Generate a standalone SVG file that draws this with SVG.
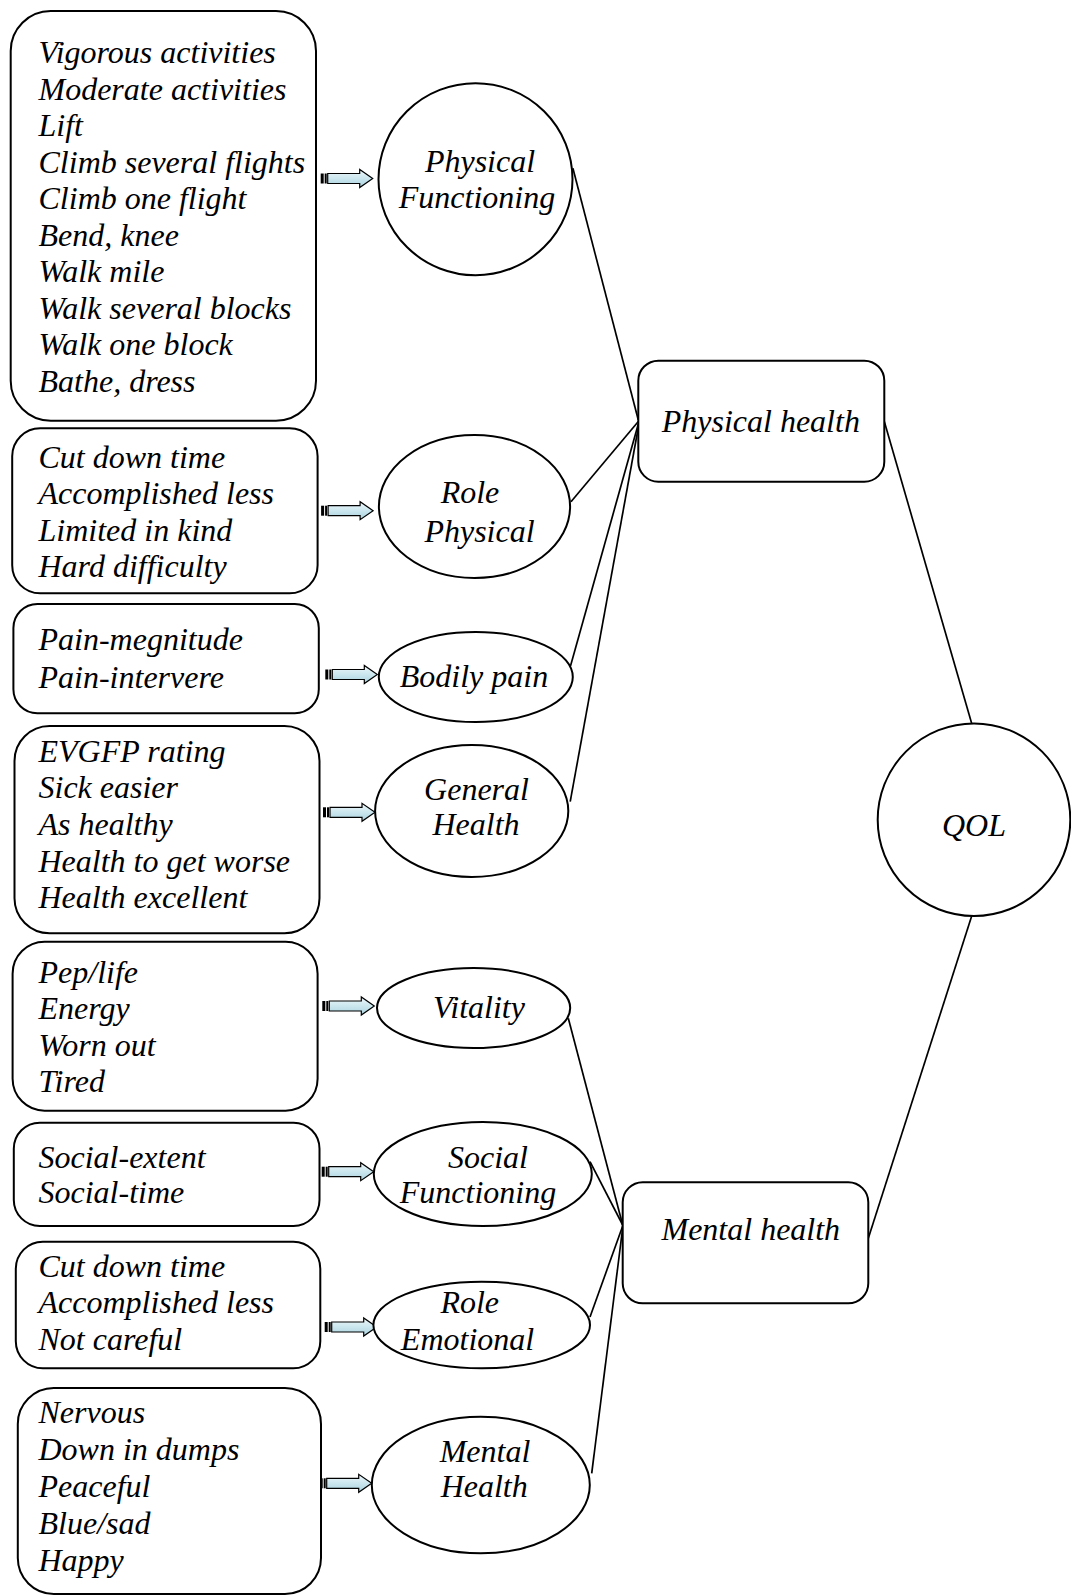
<svg xmlns="http://www.w3.org/2000/svg" xmlns:xlink="http://www.w3.org/1999/xlink" width="1071" height="1596" viewBox="0 0 1071 1596">
  <style>
    text { font-family: "Liberation Serif", "Times New Roman", serif; font-style: italic; font-size: 32px; fill: #000; }
    .mid { text-anchor: middle; }
    .box { fill: #fff; stroke: #000; stroke-width: 2; }
    .node { fill: #fff; stroke: #000; stroke-width: 2; }
    .link { fill: none; stroke: #000; stroke-width: 1.7; }
    .shaft { stroke: #000; stroke-width: 1.2; stroke-linejoin: miter; }
  </style>
  <defs>
    <linearGradient id="arrowFill" x1="0" y1="0" x2="0" y2="1">
      <stop offset="0" stop-color="#eef8fb"/>
      <stop offset="0.5" stop-color="#cbe6ee"/>
      <stop offset="1" stop-color="#a9d2de"/>
    </linearGradient>
    <!-- striped block arrow, origin at tail centre -->
    <g id="striped-arrow">
      <rect x="0" y="-5" width="3" height="10" fill="#000"/>
      <rect x="4" y="-5" width="2" height="10" fill="#000"/>
      <path class="shaft" d="M7,-5 H39 V-9 L52,0 L39,9 V5 H7 Z" fill="url(#arrowFill)"/>
    </g>
  </defs>

  <rect width="1071" height="1596" fill="#fff"/>

  <g id="connectors">
    <!-- item lists into scales -->
    <use xlink:href="#striped-arrow" transform="translate(320.7,178.5)"/>
    <use xlink:href="#striped-arrow" transform="translate(321.1,510.7)"/>
    <use xlink:href="#striped-arrow" transform="translate(325.3,674.5)"/>
    <use xlink:href="#striped-arrow" transform="translate(323,812.3)"/>
    <use xlink:href="#striped-arrow" transform="translate(322.3,1006)"/>
    <use xlink:href="#striped-arrow" transform="translate(321.7,1171.7)"/>
    <use xlink:href="#striped-arrow" transform="translate(324.7,1327)"/>
    <use xlink:href="#striped-arrow" transform="translate(319.7,1483.3)"/>
    <!-- scales into physical health -->
    <line class="link" x1="572.9" y1="168.3" x2="638.3" y2="420"/>
    <line class="link" x1="571" y1="501.7" x2="638.3" y2="421.5"/>
    <line class="link" x1="570.5" y1="666" x2="638.3" y2="424"/>
    <line class="link" x1="570.2" y1="801.7" x2="638.3" y2="427.5"/>
    <!-- scales into mental health -->
    <line class="link" x1="568.3" y1="1018.3" x2="622.7" y2="1225"/>
    <line class="link" x1="590" y1="1161.7" x2="622.7" y2="1225"/>
    <line class="link" x1="590" y1="1317" x2="622.7" y2="1226"/>
    <line class="link" x1="591.7" y1="1473.3" x2="622.7" y2="1228"/>
    <!-- summary components into QOL -->
    <line class="link" x1="884.3" y1="421.5" x2="971.7" y2="723.5"/>
    <line class="link" x1="971.7" y1="916" x2="868.3" y2="1238.3"/>
  </g>

  <g id="items-physical-functioning">
    <rect class="box" x="10.7" y="11" width="305.3" height="409.7" rx="40"/>
    <text x="38.5" y="63.3">Vigorous activities</text>
    <text x="38.5" y="99.8">Moderate activities</text>
    <text x="38.5" y="136.3">Lift</text>
    <text x="38.5" y="172.8">Climb several flights</text>
    <text x="38.5" y="209.3">Climb one flight</text>
    <text x="38.5" y="245.8">Bend, knee</text>
    <text x="38.5" y="282.3">Walk mile</text>
    <text x="38.5" y="318.8">Walk several blocks</text>
    <text x="38.5" y="355.3">Walk one block</text>
    <text x="38.5" y="391.8">Bathe, dress</text>
  </g>

  <g id="items-role-physical">
    <rect class="box" x="12.2" y="428.3" width="305.4" height="165" rx="28"/>
    <text x="38.5" y="468.3">Cut down time</text>
    <text x="38.5" y="504.4">Accomplished less</text>
    <text x="38.5" y="540.5">Limited in kind</text>
    <text x="38.5" y="576.6">Hard difficulty</text>
  </g>

  <g id="items-bodily-pain">
    <rect class="box" x="13.4" y="604" width="305.4" height="109.3" rx="24"/>
    <text x="38.5" y="650">Pain-megnitude</text>
    <text x="38.5" y="687.7">Pain-intervere</text>
  </g>

  <g id="items-general-health">
    <rect class="box" x="14.5" y="726" width="305" height="207.3" rx="35"/>
    <text x="38.5" y="761.7">EVGFP rating</text>
    <text x="38.5" y="798.3">Sick easier</text>
    <text x="38.5" y="834.9">As healthy</text>
    <text x="38.5" y="871.5">Health to get worse</text>
    <text x="38.5" y="908.1">Health excellent</text>
  </g>

  <g id="items-vitality">
    <rect class="box" x="12.6" y="941.7" width="305" height="169" rx="32"/>
    <text x="38.5" y="983">Pep/life</text>
    <text x="38.5" y="1019.3">Energy</text>
    <text x="38.5" y="1055.6">Worn out</text>
    <text x="38.5" y="1091.9">Tired</text>
  </g>

  <g id="items-social-functioning">
    <rect class="box" x="13.8" y="1122.7" width="305.7" height="103.3" rx="26"/>
    <text x="38.5" y="1168.3">Social-extent</text>
    <text x="38.5" y="1203.3">Social-time</text>
  </g>

  <g id="items-role-emotional">
    <rect class="box" x="15.8" y="1241.7" width="304.5" height="126.6" rx="27"/>
    <text x="38.5" y="1276.7">Cut down time</text>
    <text x="38.5" y="1313.3">Accomplished less</text>
    <text x="38.5" y="1350">Not careful</text>
  </g>

  <g id="items-mental-health">
    <rect class="box" x="17.8" y="1388" width="303.2" height="206" rx="36"/>
    <text x="38.5" y="1423.3">Nervous</text>
    <text x="38.5" y="1460.1">Down in dumps</text>
    <text x="38.5" y="1496.9">Peaceful</text>
    <text x="38.5" y="1533.7">Blue/sad</text>
    <text x="38.5" y="1570.5">Happy</text>
  </g>

  <g id="scale-physical-functioning">
    <ellipse class="node" cx="475.5" cy="179.2" rx="97" ry="96"/>
    <text class="mid" x="480" y="171.7">Physical</text>
    <text class="mid" x="477" y="208.3">Functioning</text>
  </g>

  <g id="scale-role-physical">
    <ellipse class="node" cx="474.5" cy="506.5" rx="95.6" ry="71.5"/>
    <text class="mid" x="470" y="503.3">Role</text>
    <text class="mid" x="479.5" y="541.7">Physical</text>
  </g>

  <g id="scale-bodily-pain">
    <ellipse class="node" cx="475.8" cy="677" rx="97" ry="45"/>
    <text class="mid" x="474" y="687">Bodily pain</text>
  </g>

  <g id="scale-general-health">
    <ellipse class="node" cx="471.7" cy="811" rx="96.6" ry="66"/>
    <text class="mid" x="476.5" y="800">General</text>
    <text class="mid" x="476" y="835">Health</text>
  </g>

  <g id="scale-vitality">
    <ellipse class="node" cx="473.6" cy="1008" rx="96.6" ry="40"/>
    <text class="mid" x="479" y="1018">Vitality</text>
  </g>

  <g id="scale-social-functioning">
    <ellipse class="node" cx="482.8" cy="1174" rx="109" ry="52"/>
    <text class="mid" x="488" y="1168">Social</text>
    <text class="mid" x="478" y="1203">Functioning</text>
  </g>

  <g id="scale-role-emotional">
    <ellipse class="node" cx="481.7" cy="1325" rx="108.3" ry="43.3"/>
    <text class="mid" x="469.7" y="1313.3">Role</text>
    <text class="mid" x="467.5" y="1350">Emotional</text>
  </g>

  <g id="scale-mental-health">
    <ellipse class="node" cx="480.8" cy="1485" rx="109" ry="68.3"/>
    <text class="mid" x="485" y="1461.7">Mental</text>
    <text class="mid" x="484.2" y="1497.3">Health</text>
  </g>

  <g id="physical-health">
    <rect class="box" x="638.3" y="360.7" width="246" height="121" rx="20"/>
    <text class="mid" x="760.8" y="431.7">Physical health</text>
  </g>

  <g id="mental-health">
    <rect class="box" x="622.7" y="1182.3" width="245.6" height="121" rx="20"/>
    <text class="mid" x="750.8" y="1240">Mental health</text>
  </g>

  <g id="qol">
    <circle class="node" cx="974" cy="819.7" r="96.3"/>
    <text class="mid" x="974" y="836">QOL</text>
  </g>
</svg>
